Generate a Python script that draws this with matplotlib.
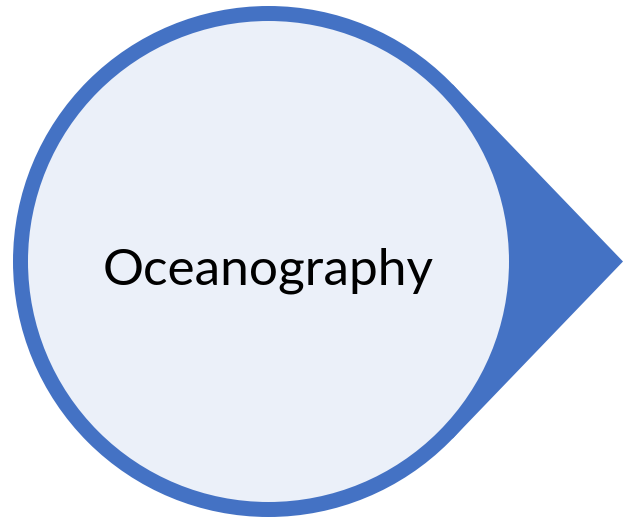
import numpy as np
import matplotlib
matplotlib.use("Agg")
import matplotlib.pyplot as plt
from matplotlib.patches import Circle, Polygon

label = "Oceanography"

BLUE = "#4472C4"
FILL = "#EBF0F9"

W, H = 623, 518
fig = plt.figure(figsize=(W / 100, H / 100), dpi=100)
ax = fig.add_axes([0, 0, 1, 1])
ax.set_xlim(0, W)
ax.set_ylim(H, 0)
ax.axis("off")

cx, cy = 268.5, 261.5
r_out, r_in = 255.5, 240.5
tip = (623, 261.5)

# tangent points from the tip onto the outer circle
d = tip[0] - cx
a = np.arccos(r_out / d)
p1 = (cx + r_out * np.cos(a), cy - r_out * np.sin(a))
p2 = (cx + r_out * np.cos(a), cy + r_out * np.sin(a))

ax.add_patch(Circle((cx, cy), r_out, facecolor=BLUE, edgecolor="none"))
ax.add_patch(Polygon([p1, tip, p2, (cx, cy)], closed=True, facecolor=BLUE, edgecolor="none"))
ax.add_patch(Circle((cx, cy), r_in, facecolor=FILL, edgecolor="none"))

ax.text(cx, 285, label, ha="center", va="baseline", fontsize=37,
        family=["Lato", "DejaVu Sans"], color="black")

fig.savefig("out.png", dpi=100)
